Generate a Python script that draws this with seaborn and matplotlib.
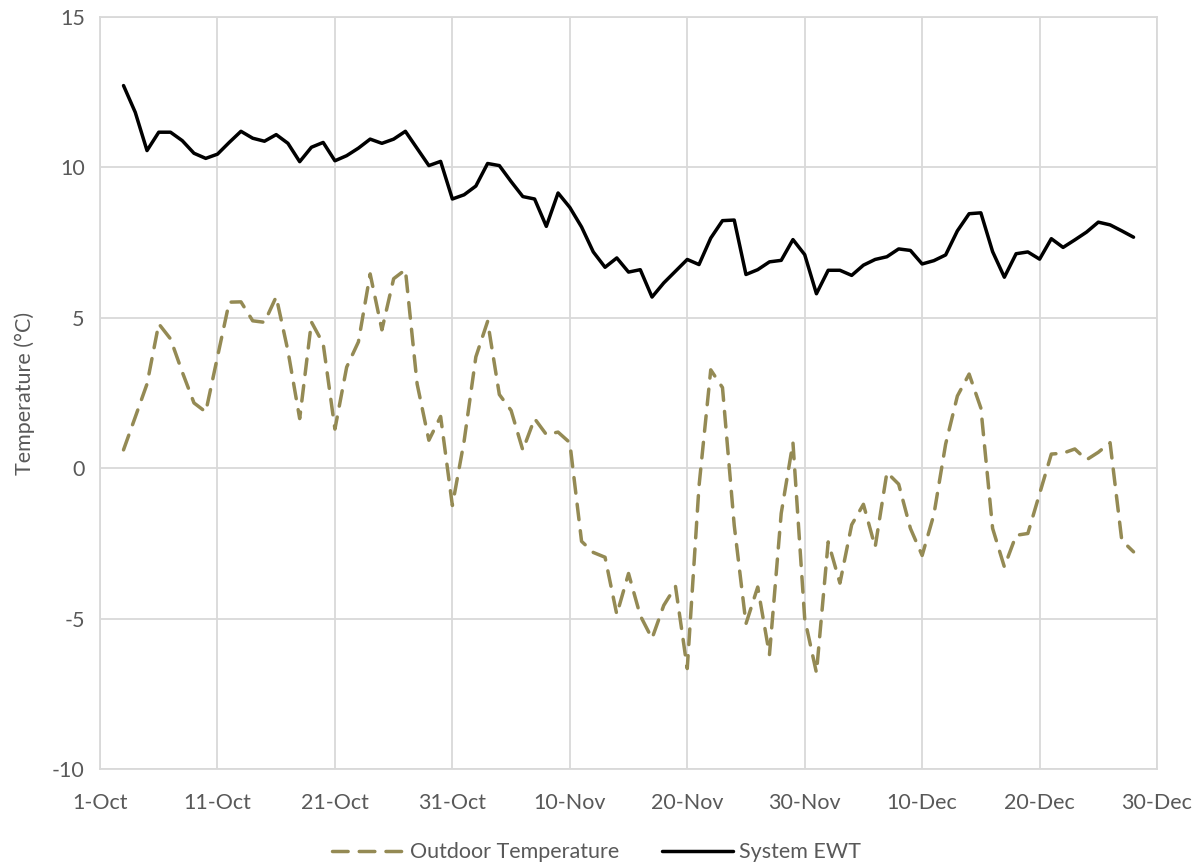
import numpy as np
import pandas as pd
import matplotlib
matplotlib.use("Agg")
import matplotlib.pyplot as plt
import matplotlib.dates as mdates
import seaborn as sns

# ===== data (daily, 3-Oct to 28-Dec) =====
START_DATE = "2019-10-03"
END_DATE = "2019-12-28"

outdoor_temp = [
    0.61, 1.7, 2.8, 4.8, 4.3, 3.2, 2.17, 1.87, 3.7, 5.52,
    5.53, 4.9, 4.85, 5.7, 3.9, 1.65, 4.86, 4.14, 1.3, 3.36,
    4.2, 6.46, 4.6, 6.3, 6.6, 2.8, 0.93, 1.72, -1.24, 0.9,
    3.7, 4.88, 2.45, 1.92, 0.6, 1.65, 1.12, 1.2, 0.85, -2.43,
    -2.8, -2.96, -4.86, -3.5, -4.9, -5.66, -4.56, -3.93, -6.66, -0.6,
    3.27, 2.68, -1.9, -5.17, -3.95, -6.2, -1.5, 0.85, -5.0, -6.8,
    -2.45, -3.82, -1.88, -1.2, -2.62, -0.14, -0.53, -2.0, -2.9, -1.54,
    0.8, 2.4, 3.13, 2.0, -2.0, -3.28, -2.23, -2.17, -0.85, 0.47,
    0.5, 0.64, 0.28, 0.53, 0.85, -2.4, -2.78,
]

system_ewt = [
    12.72, 11.83, 10.56, 11.17, 11.17, 10.89, 10.47, 10.3, 10.44, 10.83,
    11.2, 10.97, 10.87, 11.09, 10.8, 10.19, 10.67, 10.83, 10.22, 10.39,
    10.64, 10.94, 10.8, 10.94, 11.2, 10.63, 10.06, 10.2, 8.95, 9.09,
    9.38, 10.13, 10.06, 9.53, 9.03, 8.95, 8.04, 9.15, 8.67, 8.02,
    7.19, 6.68, 6.99, 6.52, 6.6, 5.69, 6.16, 6.55, 6.94, 6.77,
    7.65, 8.23, 8.25, 6.44, 6.6, 6.86, 6.91, 7.6, 7.1, 5.8,
    6.58, 6.58, 6.41, 6.75, 6.94, 7.03, 7.29, 7.24, 6.79, 6.9,
    7.09, 7.89, 8.46, 8.49, 7.2, 6.35, 7.13, 7.19, 6.95, 7.63,
    7.34, 7.59, 7.85, 8.18, 8.09, 7.89, 7.68,
]

x_ticks = ["2019-10-01", "2019-10-11", "2019-10-21", "2019-10-31", "2019-11-10",
           "2019-11-20", "2019-11-30", "2019-12-10", "2019-12-20", "2019-12-30"]
y_ticks = [-10, -5, 0, 5, 10, 15]

dates = pd.date_range(START_DATE, END_DATE, freq="D")
df = pd.DataFrame({"date": dates, "outdoor": outdoor_temp, "ewt": system_ewt})

# ===== style =====
sns.set_style("white")
plt.rcParams["font.family"] = ["Lato", "DejaVu Sans"]
plt.rcParams["axes.unicode_minus"] = False
TEXT_COLOR = "#595959"
GRID_COLOR = "#d9d9d9"
FS = 15.5

fig = plt.figure(figsize=(11.98, 8.67), dpi=100)
ax = fig.add_axes([0.0835, 0.113, 0.8823, 0.8674])

sns.lineplot(data=df, x="date", y="outdoor", ax=ax, color="#948A54", linewidth=2.5,
             label="Outdoor Temperature")
ax.lines[-1].set_dashes((4.5, 3.2))
ax.lines[-1].set_dash_capstyle("round")
sns.lineplot(data=df, x="date", y="ewt", ax=ax, color="black", linewidth=2.5,
             label="System EWT")

tick_dates = pd.to_datetime(x_ticks)
ax.set_xlim(tick_dates[0], tick_dates[-1])
ax.set_xticks(tick_dates)
ax.set_xticklabels([f"{d.day}-{d.strftime('%b')}" for d in tick_dates])
ax.set_ylim(-10, 15)
ax.set_yticks(y_ticks)

ax.grid(True, color=GRID_COLOR, linewidth=1.3)
ax.set_axisbelow(True)
for sp in ax.spines.values():
    sp.set_color(GRID_COLOR)
    sp.set_linewidth(1.3)
ax.tick_params(length=0, labelsize=FS, labelcolor=TEXT_COLOR)
ax.tick_params(axis="x", pad=17)
ax.tick_params(axis="y", pad=11)

ax.set_xlabel("")
ax.set_ylabel("Temperature (°C)", fontsize=FS, color=TEXT_COLOR, labelpad=12)

leg = ax.legend(loc="center", bbox_to_anchor=(0.498, 0.017), bbox_transform=fig.transFigure,
                ncol=2, frameon=False, fontsize=FS, handlelength=3.3,
                columnspacing=2.0, handletextpad=0.3, borderpad=0.1)
for t in leg.get_texts():
    t.set_color(TEXT_COLOR)

fig.savefig("out.png", dpi=100)
